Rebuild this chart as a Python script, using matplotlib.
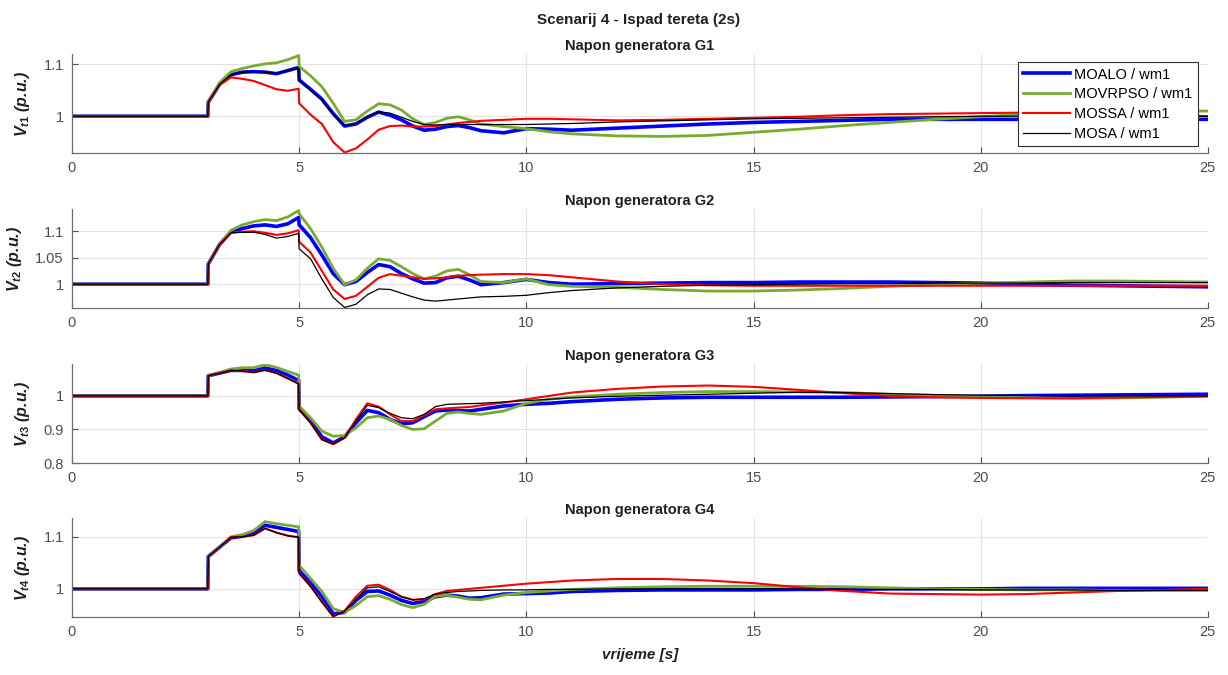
import matplotlib
matplotlib.use('Agg')
import matplotlib.pyplot as plt

plt.rcParams['font.family'] = ['Liberation Sans', 'DejaVu Sans']
plt.rcParams['mathtext.fontset'] = 'custom'
plt.rcParams['mathtext.it'] = 'Liberation Sans:bold:italic'
plt.rcParams['mathtext.rm'] = 'Liberation Sans:bold'

# vrijeme [s]
t = [0, 2.99, 3.0, 3.25, 3.5, 3.75, 4.0, 4.25, 4.5, 4.75, 4.99, 5.0, 5.25, 5.5, 5.75,
     6.0, 6.25, 6.5, 6.75, 7.0, 7.25, 7.5, 7.75, 8.0, 8.25, 8.5, 8.75, 9.0, 9.5, 10,
     10.5, 11, 12, 13, 14, 15, 16, 17, 18, 19, 20, 21, 22, 23, 24, 25]

series_names = ['MOALO / wm1', 'MOVRPSO / wm1', 'MOSSA / wm1', 'MOSA / wm1']

# G1
g1_moalo = [1, 1, 1.027, 1.062, 1.080, 1.085, 1.086, 1.085, 1.082, 1.088, 1.094, 1.070, 1.052, 1.033, 1.005,
            0.981, 0.985, 0.998, 1.008, 1.002, 0.993, 0.981, 0.973, 0.975, 0.980, 0.982, 0.978, 0.972, 0.968, 0.976,
            0.975, 0.973, 0.977, 0.981, 0.985, 0.988, 0.990, 0.992, 0.994, 0.994, 0.994, 0.994, 0.994, 0.994, 0.994, 0.994]
g1_movrpso = [1, 1, 1.027, 1.065, 1.086, 1.092, 1.097, 1.101, 1.103, 1.109, 1.117, 1.096, 1.078, 1.057, 1.025,
              0.990, 0.993, 1.010, 1.024, 1.022, 1.012, 0.995, 0.984, 0.988, 0.996, 0.999, 0.993, 0.985, 0.980, 0.976,
              0.970, 0.966, 0.962, 0.961, 0.963, 0.969, 0.975, 0.982, 0.988, 0.994, 0.999, 1.004, 1.007, 1.008, 1.009, 1.010]
g1_mossa = [1, 1, 1.027, 1.060, 1.075, 1.072, 1.068, 1.060, 1.052, 1.049, 1.053, 1.025, 1.003, 0.985, 0.950,
            0.930, 0.938, 0.955, 0.974, 0.981, 0.982, 0.980, 0.980, 0.981, 0.984, 0.987, 0.989, 0.991, 0.993, 0.995,
            0.995, 0.994, 0.992, 0.993, 0.995, 0.997, 0.999, 1.002, 1.004, 1.005, 1.006, 1.007, 1.007, 1.006, 1.003, 1.000]
g1_mosa = [1, 1, 1.027, 1.062, 1.080, 1.085, 1.086, 1.085, 1.082, 1.088, 1.093, 1.068, 1.050, 1.031, 1.003,
           0.982, 0.986, 0.999, 1.008, 1.006, 0.998, 0.990, 0.984, 0.983, 0.984, 0.984, 0.984, 0.984, 0.984, 0.984,
           0.985, 0.986, 0.989, 0.991, 0.993, 0.995, 0.996, 0.997, 0.998, 0.999, 1.0, 1.0, 1.0, 1.0, 1.0, 1.0]

# G2
g2_moalo = [1, 1, 1.038, 1.075, 1.099, 1.105, 1.110, 1.112, 1.109, 1.114, 1.126, 1.112, 1.088, 1.055, 1.020,
            0.999, 1.005, 1.022, 1.037, 1.033, 1.020, 1.010, 1.002, 1.003, 1.012, 1.015, 1.008, 0.999, 1.003, 1.009,
            1.003, 1.000, 1.001, 1.002, 1.003, 1.003, 1.004, 1.004, 1.004, 1.003, 1.002, 1.000, 0.998, 0.997, 0.996, 0.995]
g2_movrpso = [1, 1, 1.038, 1.075, 1.102, 1.112, 1.118, 1.122, 1.120, 1.127, 1.139, 1.133, 1.105, 1.070, 1.030,
              0.999, 1.008, 1.030, 1.048, 1.045, 1.033, 1.020, 1.010, 1.015, 1.025, 1.028, 1.018, 1.005, 1.003, 1.010,
              0.999, 0.996, 0.994, 0.990, 0.987, 0.987, 0.989, 0.992, 0.996, 0.999, 1.002, 1.004, 1.006, 1.006, 1.005, 1.004]
g2_mossa = [1, 1, 1.038, 1.075, 1.097, 1.099, 1.100, 1.097, 1.093, 1.096, 1.102, 1.080, 1.060, 1.025, 0.990,
            0.972, 0.978, 0.995, 1.012, 1.019, 1.016, 1.013, 1.010, 1.011, 1.013, 1.016, 1.017, 1.018, 1.019, 1.019,
            1.017, 1.013, 1.005, 1.000, 0.998, 0.997, 0.997, 0.997, 0.997, 0.997, 0.997, 0.997, 0.997, 0.997, 0.997, 0.997]
g2_mosa = [1, 1, 1.038, 1.075, 1.097, 1.098, 1.098, 1.094, 1.087, 1.090, 1.096, 1.067, 1.048, 1.010, 0.975,
           0.956, 0.962, 0.980, 0.991, 0.990, 0.983, 0.976, 0.970, 0.968, 0.970, 0.972, 0.974, 0.976, 0.977, 0.979,
           0.984, 0.988, 0.993, 0.996, 0.998, 0.999, 1.000, 1.001, 1.001, 1.002, 1.002, 1.002, 1.003, 1.003, 1.003, 1.003]

# G3
g3_moalo = [1, 1, 1.060, 1.068, 1.076, 1.076, 1.075, 1.083, 1.076, 1.062, 1.046, 0.962, 0.925, 0.878, 0.860,
            0.878, 0.920, 0.957, 0.950, 0.930, 0.917, 0.920, 0.938, 0.955, 0.958, 0.956, 0.955, 0.960, 0.970, 0.975,
            0.978, 0.983, 0.990, 0.994, 0.996, 0.996, 0.996, 0.996, 0.997, 0.998, 0.999, 1.001, 1.002, 1.003, 1.004, 1.005]
g3_movrpso = [1, 1, 1.060, 1.070, 1.080, 1.084, 1.084, 1.093, 1.085, 1.073, 1.062, 0.970, 0.935, 0.895, 0.880,
              0.882, 0.905, 0.935, 0.940, 0.930, 0.912, 0.900, 0.902, 0.925, 0.948, 0.952, 0.948, 0.945, 0.955, 0.978,
              0.990, 0.997, 1.005, 1.010, 1.013, 1.013, 1.012, 1.010, 1.005, 1.001, 0.998, 0.995, 0.993, 0.994, 0.996, 0.999]
g3_mossa = [1, 1, 1.060, 1.068, 1.076, 1.074, 1.070, 1.077, 1.068, 1.052, 1.036, 0.960, 0.920, 0.870, 0.856,
            0.875, 0.930, 0.978, 0.968, 0.945, 0.925, 0.925, 0.942, 0.960, 0.963, 0.965, 0.967, 0.972, 0.980, 0.990,
            1.000, 1.010, 1.021, 1.028, 1.031, 1.027, 1.018, 1.008, 1.000, 0.996, 0.994, 0.993, 0.993, 0.995, 0.997, 0.999]
g3_mosa = [1, 1, 1.060, 1.068, 1.076, 1.074, 1.070, 1.077, 1.068, 1.052, 1.036, 0.960, 0.920, 0.870, 0.857,
           0.875, 0.925, 0.972, 0.965, 0.948, 0.935, 0.932, 0.945, 0.968, 0.975, 0.976, 0.977, 0.978, 0.982, 0.986,
           0.990, 0.994, 0.999, 1.002, 1.005, 1.008, 1.011, 1.010, 1.007, 1.004, 1.002, 1.001, 1.000, 1.000, 1.000, 1.000]

# G4
g4_moalo = [1, 1, 1.062, 1.080, 1.098, 1.101, 1.106, 1.122, 1.118, 1.114, 1.110, 1.035, 1.012, 0.985, 0.952,
            0.955, 0.978, 0.995, 0.996, 0.988, 0.978, 0.972, 0.976, 0.985, 0.988, 0.986, 0.982, 0.983, 0.990, 0.991,
            0.992, 0.995, 0.997, 0.998, 0.998, 0.998, 0.999, 0.999, 1.000, 1.000, 1.000, 1.001, 1.001, 1.001, 1.001, 1.001]
g4_movrpso = [1, 1, 1.062, 1.080, 1.100, 1.104, 1.112, 1.129, 1.125, 1.122, 1.119, 1.045, 1.020, 0.995, 0.962,
              0.955, 0.968, 0.985, 0.987, 0.980, 0.970, 0.964, 0.970, 0.986, 0.988, 0.984, 0.980, 0.979, 0.988, 0.993,
              0.996, 0.999, 1.002, 1.004, 1.005, 1.005, 1.005, 1.004, 1.002, 1.000, 0.999, 0.998, 0.998, 0.997, 0.997, 0.997]
g4_mossa = [1, 1, 1.062, 1.080, 1.099, 1.100, 1.103, 1.116, 1.108, 1.102, 1.099, 1.030, 1.005, 0.975, 0.947,
            0.958, 0.985, 1.006, 1.008, 0.998, 0.985, 0.979, 0.980, 0.990, 0.996, 0.998, 1.000, 1.002, 1.006, 1.010,
            1.013, 1.016, 1.019, 1.019, 1.016, 1.011, 1.003, 0.996, 0.991, 0.990, 0.989, 0.990, 0.993, 0.996, 0.998, 1.000]
g4_mosa = [1, 1, 1.062, 1.080, 1.099, 1.100, 1.103, 1.116, 1.108, 1.102, 1.099, 1.030, 1.005, 0.975, 0.947,
           0.957, 0.980, 1.002, 1.004, 0.995, 0.985, 0.979, 0.981, 0.990, 0.993, 0.995, 0.996, 0.997, 0.998, 0.998,
           0.999, 0.999, 1.000, 1.000, 1.000, 1.000, 1.000, 0.999, 0.999, 0.999, 0.998, 0.998, 0.998, 0.997, 0.997, 0.997]

panels = [
    ('Napon generatora G1', 't1', [g1_moalo, g1_movrpso, g1_mossa, g1_mosa], (0.929, 1.12), [1, 1.1]),
    ('Napon generatora G2', 't2', [g2_moalo, g2_movrpso, g2_mossa, g2_mosa], (0.955, 1.142), [1, 1.05, 1.1]),
    ('Napon generatora G3', 't3', [g3_moalo, g3_movrpso, g3_mossa, g3_mosa], (0.8, 1.095), [0.8, 0.9, 1]),
    ('Napon generatora G4', 't4', [g4_moalo, g4_movrpso, g4_mossa, g4_mosa], (0.946, 1.136), [1, 1.1]),
]

colors = ['#0000ff', '#77ac30', '#ff0000', '#000000']
widths = [2.6, 2.0, 1.5, 0.9]
ax_pos = [(0.0586, 0.7733, 0.925, 0.1467),
          (0.0586, 0.5437, 0.925, 0.1467),
          (0.0586, 0.3140, 0.925, 0.1467),
          (0.0586, 0.0859, 0.925, 0.1467)]

fig = plt.figure(figsize=(12.28, 6.75), dpi=100)
fig.text(0.52, 0.971, 'Scenarij 4 - Ispad tereta (2s)', ha='center', va='center',
         fontsize=11, fontweight='bold', color='#202020')

tick_col = '#4d4d4d'
for i, (title, sub, data, ylim, yt) in enumerate(panels):
    ax = fig.add_axes(ax_pos[i])
    for s in range(4):
        ax.plot(t, data[s], color=colors[s], lw=widths[s], label=series_names[s])
    ax.set_xlim(0, 25)
    ax.set_ylim(*ylim)
    ax.set_xticks([0, 5, 10, 15, 20, 25])
    ax.set_yticks(yt)
    ax.set_yticklabels(['%g' % v for v in yt])
    ax.grid(True, color='#e3e3e3', lw=0.8)
    ax.set_axisbelow(True)
    for sp in ['top', 'right']:
        ax.spines[sp].set_visible(False)
    for sp in ['left', 'bottom']:
        ax.spines[sp].set_color('#6e6e6e')
        ax.spines[sp].set_linewidth(0.9)
    ax.tick_params(direction='in', length=4, colors=tick_col, labelsize=10.5, pad=6)
    ax.set_title(title, fontsize=10.5, fontweight='bold', color='#202020', pad=3)
    ax.set_ylabel(r'$V_{%s}$ (p.u.)' % sub, fontsize=11.5, fontweight='bold', style='italic',
                  color='#202020', labelpad=8)
    if i == 0:
        leg = ax.legend(loc='upper right', bbox_to_anchor=(0.991, 0.915), borderaxespad=0,
                        fontsize=10.5, frameon=True, fancybox=False, framealpha=1,
                        handlelength=3.2, labelspacing=0.4, borderpad=0.35, handletextpad=0.3)
        leg.get_frame().set_edgecolor('#333333')
        leg.get_frame().set_linewidth(0.8)
    if i == 3:
        ax.set_xlabel('vrijeme [s]', fontsize=11, fontweight='bold', style='italic',
                      color='#202020', labelpad=6)

fig.savefig('out.png', dpi=100)
